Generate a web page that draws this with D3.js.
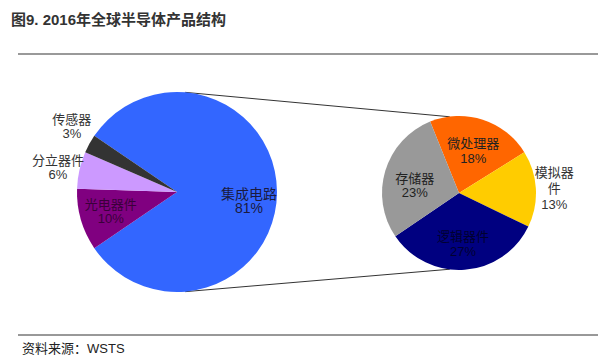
<!DOCTYPE html>
<html>
<head>
<meta charset="utf-8">
<script src="https://cdn.jsdelivr.net/npm/d3@7"></script>
<style>
  body { margin: 0; background: #fff; }
  text { font-family: "Liberation Sans", "Noto Sans CJK SC", sans-serif; }
</style>
</head>
<body>
<svg id="chart" width="604" height="362"></svg>
<script>
// 半导体产品结构 (占全部的百分比)
const products = ["集成电路", "光电器件", "分立器件", "传感器"]
const productShare = [81, 10, 6, 3]
const productColors = ["#3366ff", "#800080", "#cc99ff", "#333333"]

// 集成电路细分 (同样是占全部的百分比)
const icTypes = ["微处理器", "模拟器件", "逻辑器件", "存储器"]
const icShare = [18, 13, 27, 23]
const icColors = ["#ff6600", "#ffcc00", "#000080", "#999999"]

const width = 604, height = 362
const svg = d3.select("#chart").attr("viewBox", [0, 0, width, height])

const deg = Math.PI / 180
const p1 = {cx: 177, cy: 192, r: 100}
const p2 = {cx: 459, cy: 193, r: 77}

// title
svg.append("text")
    .attr("x", 11).attr("y", 25)
    .attr("font-size", 15).attr("font-weight", "bold")
    .attr("fill", "#333")
    .text("图9. 2016年全球半导体产品结构")

svg.append("line")
    .attr("x1", 18).attr("x2", 598).attr("y1", 54).attr("y2", 54)
    .attr("stroke", "#999").attr("stroke-width", 2)

// connector lines, close to the outer tangents of the two circles
const d = p2.cx - p1.cx
const nx = (p1.r - p2.r) / d, ny = Math.sqrt(1 - nx * nx)
;[-1, 1].forEach(s => {
    svg.append("line")
        .attr("x1", p1.cx + nx * p1.r).attr("y1", p1.cy + s * ny * p1.r)
        .attr("x2", p2.cx - 0.12 * p2.r).attr("y2", p2.cy + s * 0.99 * p2.r)
        .attr("stroke", "#333").attr("stroke-width", 1)
})

function drawPie(p, names, values, colors, start, opts) {
    const pie = d3.pie().sort(null)
        .startAngle(start).endAngle(start + 2 * Math.PI)
    const arcs = pie(values)
    const arc = d3.arc().innerRadius(0).outerRadius(p.r)
    const g = svg.append("g").attr("transform", `translate(${p.cx},${p.cy})`)

    g.selectAll("path")
        .data(arcs)
        .join("path")
        .attr("d", arc)
        .attr("fill", (d, i) => colors[i])

    arcs.forEach((a, i) => {
        const o = opts[i]
        const mid = (a.startAngle + a.endAngle) / 2
        const rr = p.r * o.k
        const x = Math.sin(mid) * rr, y = -Math.cos(mid) * rr + (o.dy || 0)
        const lines = (o.lines || [names[i]]).concat([values[i] + "%"])
        const lh = o.lh || 14.5
        const t = g.append("text")
            .attr("text-anchor", "middle")
            .attr("font-size", o.size || 13)
            .attr("fill", o.fill)
        lines.forEach((l, j) => {
            t.append("tspan")
                .attr("x", x)
                .attr("y", y + (j - (lines.length - 1) / 2) * lh)
                .attr("dy", "0.35em")
                .text(l)
        })
    })
}

drawPie(p1, products, productShare, productColors, -55.8 * deg, [
    {k: 0.72, fill: "#1a1a40", dy: 9, size: 14},
    {k: 0.69, fill: "#3a003a"},
    {k: 1.22, fill: "#333", dy: 2},
    {k: 1.2, fill: "#333", dy: -8}
])

drawPie(p2, icTypes, icShare, icColors, -22 * deg, [
    {k: 0.6, fill: "#222", dy: 2},
    {k: 1.24, fill: "#333", lines: ["模拟器", "件"], lh: 16, dy: 1},
    {k: 0.7, fill: "#000030", dy: -3},
    {k: 0.6, fill: "#222", dy: 6}
])

// source
svg.append("line")
    .attr("x1", 18).attr("x2", 598).attr("y1", 335).attr("y2", 335)
    .attr("stroke", "#333").attr("stroke-width", 1)

svg.append("text")
    .attr("x", 22).attr("y", 353)
    .attr("font-size", 13).attr("fill", "#222")
    .text("资料来源：WSTS")
</script>
</body>
</html>
